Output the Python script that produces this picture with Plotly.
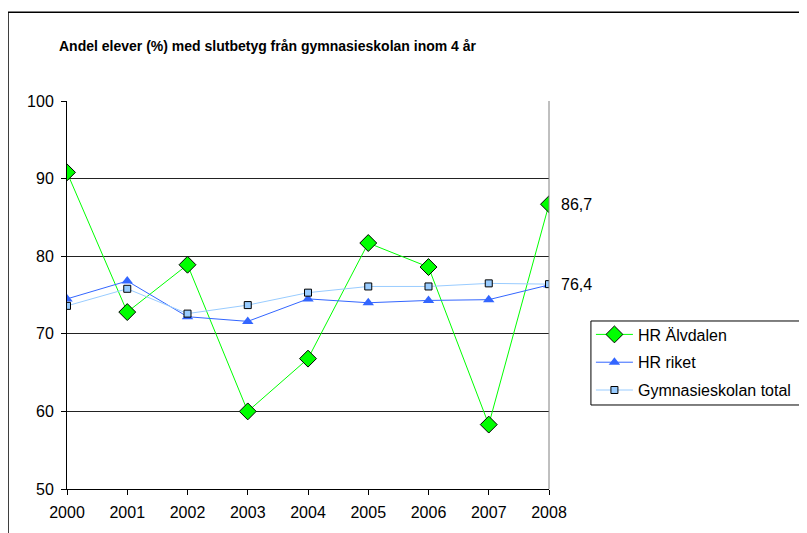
import plotly.graph_objects as go

years = [2000, 2001, 2002, 2003, 2004, 2005, 2006, 2007, 2008]
hr_alvdalen = [90.8, 72.8, 78.9, 60.0, 66.8, 81.7, 78.6, 58.3, 86.7]
hr_riket = [74.5, 76.8, 72.2, 71.6, 74.5, 74.0, 74.3, 74.4, 76.3]
gymn_total = [73.6, 75.8, 72.6, 73.7, 75.3, 76.1, 76.1, 76.5, 76.4]
y_ticks = [50, 60, 70, 80, 90, 100]
title_text = "Andel elever (%) med slutbetyg från gymnasieskolan inom 4 år"

FONT = "Liberation Sans, Arial, sans-serif"

fig = go.Figure()
fig.add_trace(go.Scatter(
    x=years, y=hr_alvdalen, name="HR Älvdalen", mode="lines+markers",
    line=dict(color="#00FF00", width=1), legendgroup="a",
    marker=dict(symbol="diamond", size=13, color="#00FF00", line=dict(color="black", width=1))))
fig.add_trace(go.Scatter(
    x=years, y=hr_riket, name="HR riket", mode="lines+markers",
    line=dict(color="#3366FF", width=1), legendgroup="b",
    marker=dict(symbol="triangle-up", size=10, color="#3366FF")))
fig.add_trace(go.Scatter(
    x=years, y=gymn_total, name="Gymnasieskolan total", mode="lines+markers",
    line=dict(color="#99CCFF", width=1), legendgroup="c",
    marker=dict(symbol="square", size=7, color="#99CCFF", line=dict(color="black", width=1))))

fig.add_annotation(x=years[-1], y=hr_alvdalen[-1], text=f"{hr_alvdalen[-1]:.1f}".replace(".", ","),
                   xanchor="left", xshift=10, showarrow=False, font=dict(size=16, color="black", family=FONT))
fig.add_annotation(x=years[-1], y=gymn_total[-1], text=f"{gymn_total[-1]:.1f}".replace(".", ","),
                   xanchor="left", xshift=10, showarrow=False, font=dict(size=16, color="black", family=FONT))
fig.add_annotation(x=0.417, y=1.143, xref="paper", yref="paper", text="<b>" + title_text + "</b>",
                   showarrow=False, xanchor="center", yanchor="middle",
                   font=dict(size=14, color="black", family=FONT))

# outer chart border
fig.add_shape(type="rect", xref="paper", yref="paper", x0=-0.1224, x1=1.7, y0=-0.3, y1=1.2286,
              line=dict(color="black", width=1.5), fillcolor="rgba(0,0,0,0)", layer="below")
# right plot edge
fig.add_shape(type="line", xref="paper", yref="paper", x0=1, x1=1, y0=0, y1=1,
              line=dict(color="#808080", width=1))
# legend frame (extends past the right edge)
fig.add_shape(type="rect", xref="paper", yref="paper", x0=1.087, x1=1.6, y0=0.2165, y1=0.433,
              line=dict(color="black", width=1), fillcolor="rgba(0,0,0,0)")

fig.update_layout(
    width=807, height=533,
    margin=dict(l=59, r=266, t=93, b=52),
    paper_bgcolor="white", plot_bgcolor="white",
    font=dict(family=FONT, size=16, color="black"),
    showlegend=True,
    legend=dict(x=1.087, y=0.442, xanchor="left", yanchor="top",
                borderwidth=0, bgcolor="rgba(0,0,0,0)",
                font=dict(size=16, family=FONT), tracegroupgap=4,
                itemwidth=37),
    xaxis=dict(range=[2000, 2008], tickvals=years, ticktext=[str(y) for y in years],
               showgrid=False, zeroline=False, showline=True, linecolor="black", linewidth=1,
               ticks="outside", ticklen=5, tickcolor="black", tickfont=dict(size=16),
               ticklabelstandoff=4),
    yaxis=dict(range=[50, 100], tickvals=y_ticks, showgrid=True, gridcolor="#222222", gridwidth=1,
               zeroline=False, showline=True, linecolor="black", linewidth=1,
               ticks="outside", ticklen=5, tickcolor="black", tickfont=dict(size=16),
               ticklabelstandoff=4),
)

fig.write_html("out.html")
